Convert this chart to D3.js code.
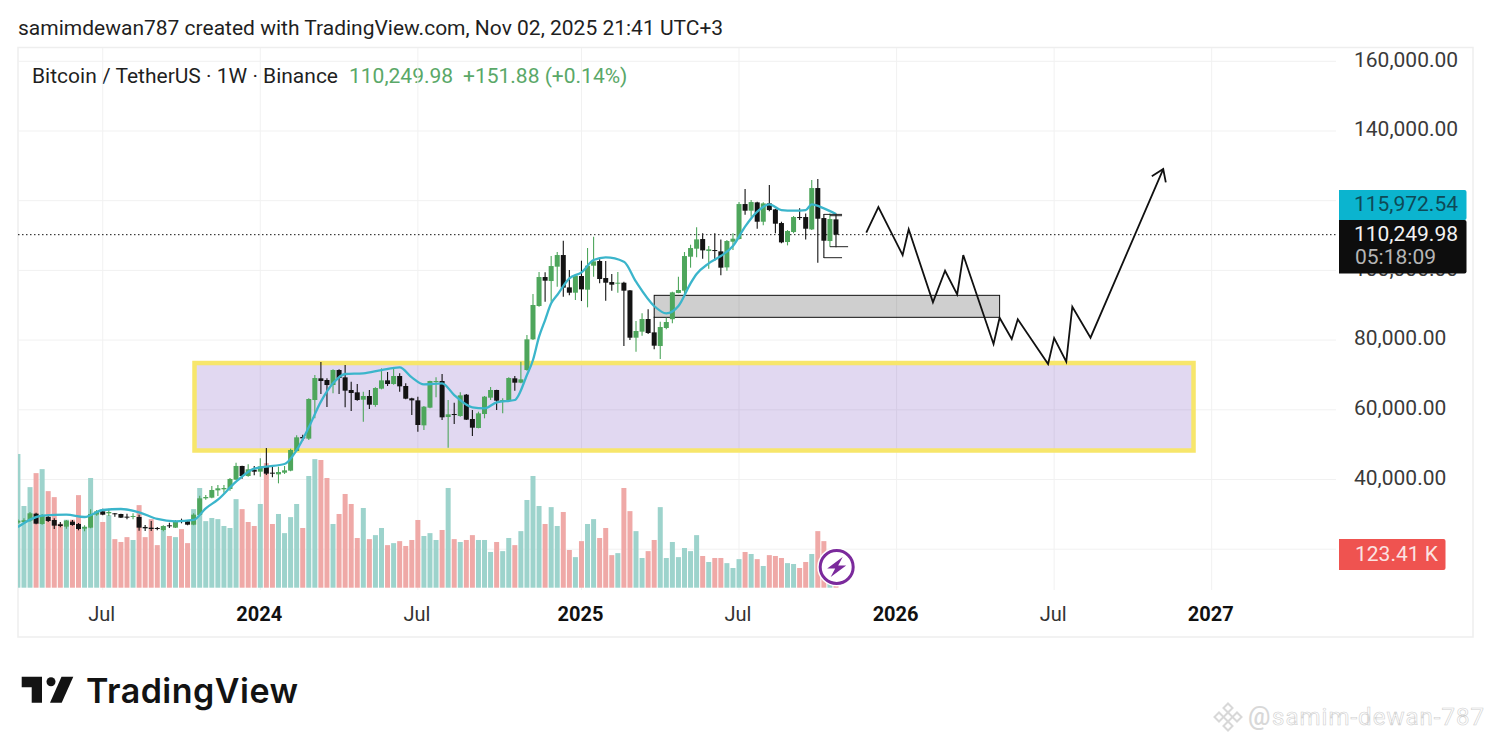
<!DOCTYPE html>
<html>
<head>
<meta charset="utf-8">
<title>BTCUSDT 1W</title>
<script src="https://cdn.jsdelivr.net/npm/d3@7"></script>
<style>
  html, body { margin: 0; padding: 0; background: #fff; }
  svg { display: block; font-family: Roboto, sans-serif; }
</style>
</head>
<body>
<svg id="chart" width="1492" height="743"></svg>
<script>
// Weekly candles, Monday 2023-03-27 onward
const open = [
  27620,27810,28190,30200,27240,29240,28380,27140,26470,27900,
  27240,25900,26180,29910,30870,30300,30300,30100,29340,29340,
  29240,26380,26180,26090,25510,26850,26180,28190,28000,27040,
  29820,34600,34790,36890,37180,37280,39950,43880,41010,42820,
  42250,43680,41960,41480,41960,42540,48180,52200,51720,62810,
  69030,68550,67110,71420,69310,65680,65010,62900,63960,61380,
  66060,68450,67400,69700,66830,63290,62710,55540,60610,67970,
  68260,57930,58790,58220,64340,57360,54780,58790,63480,65680,
  62430,62520,69030,67780,71420,80220,89780,98100,96950,101070,
  104410,95130,93600,98390,94460,101350,102690,97810,96660,96190,
  96470,94270,80690,82420,86050,82220,78300,83470,86000,93510,
  94180,103930,106230,109000,105560,105840,105460,100870,108230,109000,
  119040,117130,119520,113970,119230,117510,113590,108140,111010,115310,
  115310,111770,123630,115020,108430,114640
];
const high = [
  28570,28860,30680,30490,30100,29910,28860,27810,28380,28380,
  27520,26850,31440,31250,31630,31630,30390,30200,30200,30300,
  29910,26950,28100,26380,26850,27620,28380,28770,28190,30300,
  35360,35560,38140,38420,38420,40430,44830,43970,44350,43880,
  46070,49040,43680,43680,43880,48850,52670,52860,63290,69980,
  73710,69030,71610,71610,72850,68070,67400,65200,65680,66440,
  71890,70840,71890,70460,67590,63480,63770,61090,68360,69310,
  70270,62810,62040,65010,64530,59940,59460,63960,66540,65770,
  63290,69310,69700,73810,81460,93220,99530,99440,104120,105270,
  108520,100110,98960,102780,106420,109670,103170,102690,98960,99530,
  96760,94370,85480,87680,88820,86720,85280,86430,93890,98190,
  105270,107370,112350,110630,106990,110630,108900,108710,110630,119610,
  123340,120190,119710,119520,124490,117700,113970,111580,115600,117800,
  116360,125930,126210,116170,116360,116360
];
const low = [
  27240,27240,27900,27140,27040,27810,25800,26280,25900,26760,
  25420,25130,25990,29630,29720,29530,29340,28960,28570,28570,
  25320,25230,25230,25420,25130,26090,26090,27430,26850,26850,
  29630,34220,34600,35270,36220,36800,39860,40240,40820,41200,
  40820,41290,40620,38900,41580,42350,47990,51140,51330,57550,
  64530,60800,64720,64530,60710,59650,62620,56590,60230,60900,
  65870,66830,67210,65200,63000,58510,53730,54200,60420,63570,
  57070,49130,55920,58030,57070,52480,54680,57550,62810,59940,
  58980,62330,65490,67590,71230,80020,89590,91020,91020,95330,
  92460,92840,91500,91210,89400,98190,96280,91310,94180,93600,
  78300,80020,76680,81270,81750,77350,74570,83080,84810,93410,
  92930,100780,103740,103360,100490,102780,98580,99920,105840,108900,
  115980,115410,111960,112920,116940,110630,107760,107180,110630,114450,
  108900,111580,102210,103550,106800,106610
];
const close = [
  28190,28290,30300,27330,29530,28100,26760,26660,28190,26950,
  25800,26380,30100,30870,29910,30680,30100,29050,29150,29530,
  26180,25990,25800,25800,26660,26660,28100,28000,27040,29910,
  34600,34980,36990,37470,37560,40150,43880,41010,42920,42250,
  43780,41680,41680,42150,42630,48470,52100,51810,63100,69120,
  68260,67110,71420,69120,65490,64820,62810,63960,61470,66250,
  68450,67400,69700,66730,63190,62710,55640,60900,68260,68260,
  57840,58700,58600,64150,57170,54870,58980,63770,65680,62620,
  62810,69120,67780,68740,80220,90070,98100,97050,101250,104410,
  95040,93600,98480,94560,101350,102590,97530,96470,95900,96470,
  94180,80690,82610,86050,82030,78400,83750,85190,93700,94370,
  104120,106420,108900,105750,106040,105650,100780,108430,109100,119040,
  117130,119610,113970,119230,117320,113400,108040,111300,115310,115020,
  111960,123630,114830,108520,114740,110249.98
];
// volume in thousands of BTC
const volume = [
  468,286,352,401,415,338,317,224,238,238,
  324,214,384,256,230,254,170,160,177,167,
  289,177,240,149,214,181,177,205,156,275,
  349,233,244,240,216,209,310,275,230,216,
  293,436,223,258,191,247,293,209,391,450,
  447,384,223,258,328,293,174,279,170,184,
  209,149,156,163,146,167,237,181,191,167,
  202,349,170,160,167,184,167,167,125,160,
  128,174,149,198,307,391,286,223,282,216,
  265,132,107,163,223,240,174,209,114,121,
  349,268,198,104,128,167,282,104,160,107,
  139,128,184,111,90,104,104,86,69,100,
  125,118,100,76,114,111,104,86,83,69,
  90,118,198,163,105,123.41
];
// week with a green candle but a red volume bar
const redVolumeWeeks = [38];
const maWeek = [0,4,8,11,14,17,20,23,26,29,31,33,36,39,41,44,46,48,50,52,54,57,60,63,65,67,70,72,75,77,79,82,84,85,86,87,88,89,91,93,95,97,100,102,105,107,109,111,112,114,116,118,120,122,124,126,128,130,131,133,135];
const maPrice = [26375,29626,29913,29243,31252,31539,30583,28670,28000,28383,31730,34217,39380,43110,43684,44449,48465,54968,62332,67591,70269,70460,71416,72181,69312,67304,67591,64244,60706,60419,62140,62810,69982,74286,80980,85762,90544,92934,97716,99437,102975,103740,102497,96760,89779,87675,89779,96281,98958,102019,104123,106991,112538,116841,118945,117319,117128,117319,118945,117797,116172];
// forecast zig-zag drawn on the chart
const forecastWeek = [140,142,146,147,151,153,155,156,161,162,164,165,170,171,173,174,177,189];
const forecastPrice = [110807,118180,104409,111782,90839,99905,93134,104409,78875,86420,80309,85961,73137,80596,73797,89576,80683,129082];
// small horizontal ticks at the last bars
const stubFrom = [133,134,134,133];
const stubTo = [136,136,137,136];
const stubPrice = [116076,115694,106800,103645];

const gridPrices = [160000,140000,120000,100000,80000,60000,40000,20000];
// 120,000 and 20,000 sit fully under the price tags
const labelPrices = [160000,140000,100000,80000,60000,40000];
const timeTicks = ["2023-07-03","2024-01-01","2024-07-01","2025-01-06","2025-07-07","2026-01-05","2026-07-06","2027-01-04"];
const timeLabels = ["Jul","2024","Jul","2025","Jul","2026","Jul","2027"];

const rangeBox = { from: "2023-10-17", to: "2026-12-14", top: 73424, bottom: 48320 };
const grayBox = { from: "2025-03-31", to: "2026-05-04", top: 92847, bottom: 86535 };
const lastPrice = 110249.98;

const UP = "#4ea65c", DOWN = "#131313";
const VOL_UP = "#9dd3cc", VOL_DOWN = "#efa9a7";

const firstWeek = new Date(Date.UTC(2023, 2, 27));
const weekDate = (i) => d3.utcMonday.offset(firstWeek, i);
const parse = d3.utcParse("%Y-%m-%d");

const paneLeft = 18, paneRight = 1336, paneBottom = 590;

const x = d3.scaleUtc().domain([weekDate(0), weekDate(197)]).range([17.9, 1211.7]);
const y = d3.scaleLinear().domain([40000, 160000]).range([479.5, 61.3]);
const yVol = d3.scaleLinear().domain([0, 350]).range([587.7, 487.7]);

const svg = d3.select("#chart");
svg.append("clipPath").attr("id", "pane").append("rect")
  .attr("x", paneLeft).attr("y", 48).attr("width", paneRight - paneLeft).attr("height", paneBottom - 48);

// frame
svg.append("rect").attr("x", 18).attr("y", 47.5).attr("width", 1455).attr("height", 589.5)
  .attr("fill", "none").attr("stroke", "#eeeeee").attr("stroke-width", 1.5);

// header
svg.append("text").attr("x", 18).attr("y", 35).attr("font-size", 21).attr("fill", "#1f1f1f")
  .text("samimdewan787 created with TradingView.com, Nov 02, 2025 21:41 UTC+3");
const legend = svg.append("text").attr("x", 32).attr("y", 83).attr("font-size", 21);
legend.append("tspan").attr("fill", "#1f1f1f").text("Bitcoin / TetherUS · 1W · Binance");
legend.append("tspan").attr("x", 349).attr("fill", "#5aa868").text("110,249.98");
legend.append("tspan").attr("x", 463).attr("fill", "#5aa868").text("+151.88 (+0.14%)");

// grid
const grid = svg.append("g").attr("stroke", "#f1f1f1").attr("stroke-width", 1);
grid.selectAll("line.h").data(gridPrices).join("line").attr("class", "h")
  .attr("x1", paneLeft).attr("x2", paneRight).attr("y1", (d) => y(d)).attr("y2", (d) => y(d));
grid.selectAll("line.v").data(timeTicks).join("line").attr("class", "v")
  .attr("x1", (d) => x(parse(d))).attr("x2", (d) => x(parse(d))).attr("y1", 48).attr("y2", paneBottom);

// axes
const xAxis = d3.axisBottom(x)
  .tickValues(timeTicks.map(parse))
  .tickSize(0)
  .tickFormat((d, i) => timeLabels[i]);
const xAxisG = svg.append("g").attr("transform", "translate(-1.5,604)").call(xAxis);
xAxisG.select(".domain").remove();
xAxisG.selectAll("text")
  .attr("font-family", "Roboto, sans-serif").attr("font-size", 20)
  .attr("font-weight", (d, i) => (i % 2 ? 700 : 400))
  .attr("fill", (d, i) => (i % 2 ? "#111" : "#333"));

const yAxis = d3.axisRight(y).tickValues(labelPrices).tickSize(0)
  .tickFormat((d) => d3.format(",.2f")(d));
const yAxisG = svg.append("g").attr("transform", "translate(1354,-2)").call(yAxis);
yAxisG.select(".domain").remove();
yAxisG.selectAll("text").attr("x", 0)
  .attr("font-family", "Roboto, sans-serif").attr("font-size", 21).attr("fill", "#3a3a3a");

const pane = svg.append("g").attr("clip-path", "url(#pane)");

// volume
const bars = d3.range(open.length);
const volUp = (i) => close[i] >= open[i] && !redVolumeWeeks.includes(i);
pane.append("g").selectAll("rect").data(bars).join("rect")
  .attr("x", (i) => x(weekDate(i)) - 2.5)
  .attr("width", 5)
  .attr("y", (i) => yVol(volume[i]))
  .attr("height", (i) => yVol(0) - yVol(volume[i]))
  .attr("fill", (i) => (volUp(i) ? VOL_UP : VOL_DOWN));

// drawn boxes
function drawBox(box, fill, stroke, strokeWidth) {
  pane.append("rect")
    .attr("x", x(parse(box.from)))
    .attr("width", x(parse(box.to)) - x(parse(box.from)))
    .attr("y", y(box.top))
    .attr("height", y(box.bottom) - y(box.top))
    .attr("fill", fill)
    .attr("stroke", stroke)
    .attr("stroke-width", strokeWidth);
}
drawBox(rangeBox, "rgba(103,58,183,0.2)", "#f7e66b", 4.5);
drawBox(grayBox, "rgba(0,0,0,0.19)", "#111", 1);

// last price line
pane.append("line").attr("x1", paneLeft).attr("x2", paneRight)
  .attr("y1", y(lastPrice)).attr("y2", y(lastPrice))
  .attr("stroke", "#111").attr("stroke-width", 1).attr("stroke-dasharray", "1.5 2.5");

// candles
const candles = pane.append("g");
candles.selectAll("line").data(bars).join("line")
  .attr("x1", (i) => x(weekDate(i))).attr("x2", (i) => x(weekDate(i)))
  .attr("y1", (i) => y(high[i])).attr("y2", (i) => y(low[i]))
  .attr("stroke", (i) => (close[i] >= open[i] ? UP : DOWN)).attr("stroke-width", 1.1);
candles.selectAll("rect").data(bars).join("rect")
  .attr("x", (i) => x(weekDate(i)) - 2.5)
  .attr("width", 5)
  .attr("y", (i) => y(Math.max(open[i], close[i])))
  .attr("height", (i) => Math.max(1, Math.abs(y(open[i]) - y(close[i]))))
  .attr("fill", (i) => (close[i] >= open[i] ? UP : DOWN));

// moving average
const maLine = d3.line()
  .x((d, i) => x(weekDate(maWeek[i])))
  .y((d) => y(d))
  .curve(d3.curveMonotoneX);
pane.append("path").attr("d", maLine(maPrice))
  .attr("fill", "none").attr("stroke", "#3bb5cb").attr("stroke-width", 2.3);

// stubs at the last bars
pane.append("g").selectAll("line").data(stubPrice).join("line")
  .attr("x1", (d, i) => x(weekDate(stubFrom[i])))
  .attr("x2", (d, i) => x(weekDate(stubTo[i])))
  .attr("y1", (d) => y(d)).attr("y2", (d) => y(d))
  .attr("stroke", "#222").attr("stroke-width", 1);

// forecast path with arrow head
const fcPoints = forecastPrice.map((p, i) => [x(weekDate(forecastWeek[i])), y(p)]);
const fcLine = d3.line();
pane.append("path").attr("d", fcLine(fcPoints))
  .attr("fill", "none").attr("stroke", "#111").attr("stroke-width", 1.8).attr("stroke-linejoin", "miter");
const tip = fcPoints[fcPoints.length - 1], prev = fcPoints[fcPoints.length - 2];
const ang = Math.atan2(tip[1] - prev[1], tip[0] - prev[0]);
const head = [ang - 0.6, ang + 0.6].map((a) => [tip[0] - 13.5 * Math.cos(a), tip[1] - 13.5 * Math.sin(a)]);
pane.append("path").attr("d", fcLine([head[0], tip, head[1]]))
  .attr("fill", "none").attr("stroke", "#111").attr("stroke-width", 1.8);

// price labels
function priceLabel(top, bottom, width, fill) {
  svg.append("path")
    .attr("d", `M1339,${top}H${1339 + width - 2}a2,2 0 0 1 2,2V${bottom - 2}a2,2 0 0 1 -2,2H1339Z`)
    .attr("fill", fill);
}
priceLabel(190, 220, 127.5, "#0bb4cf");
svg.append("text").attr("x", 1458).attr("y", 211).attr("text-anchor", "end")
  .attr("font-size", 21).attr("fill", "#0e4a57").text("115,972.54");
priceLabel(220, 273.5, 127.5, "#0d0d0d");
svg.append("text").attr("x", 1458).attr("y", 241).attr("text-anchor", "end")
  .attr("font-size", 21).attr("fill", "#f2f2f2").text(d3.format(",.2f")(lastPrice));
svg.append("text").attr("x", 1355).attr("y", 264)
  .attr("font-size", 21).attr("fill", "#b5b5b5").text("05:18:09");
priceLabel(539, 570, 106.5, "#ef5350");
svg.append("text").attr("x", 1355).attr("y", 561)
  .attr("font-size", 21).attr("fill", "#fbe3e2").text("123.41 K");

// bolt badge
const badge = svg.append("g").attr("transform", `translate(${x(weekDate(135)) + 0.7},567)`);
badge.append("circle").attr("r", 19.5).attr("fill", "#fff");
badge.append("circle").attr("r", 16.5).attr("fill", "#fff").attr("stroke", "#7b2a9c").attr("stroke-width", 3);
badge.append("path").attr("d", "M6,-10 L-9.5,1.5 L-1.5,1.5 L-6,10 L9.5,-1.5 L1.5,-1.5 Z").attr("fill", "#7b2a9c");

// TradingView logo
const logo = svg.append("g").attr("fill", "#131313");
logo.append("path").attr("d", "M21.7,676.7H42V702.7H31.7V687.3H21.7Z");
logo.append("circle").attr("cx", 51).attr("cy", 681.7).attr("r", 4.5);
logo.append("path").attr("d", "M73.3,676.7L61.7,702.7H50L61.5,676.7Z");
logo.append("text").attr("x", 86).attr("y", 703).attr("font-family", "Inter, sans-serif")
  .attr("font-size", 34).attr("font-weight", 600).attr("textLength", 212).text("TradingView");

// watermark
const mark = svg.append("g").attr("transform", "translate(1228,717)").attr("fill", "none").attr("stroke", "#d8d8d8").attr("stroke-width", 2);
[[0, -9], [-9, 0], [9, 0], [0, 9], [0, 0]].forEach(([dx, dy]) => {
  mark.append("rect").attr("x", dx - 3.2).attr("y", dy - 3.2).attr("width", 6.4).attr("height", 6.4)
    .attr("transform", `rotate(45 ${dx} ${dy})`);
});
svg.append("text").attr("x", 1248).attr("y", 725).attr("font-size", 25).attr("fill", "#d8d8d8").attr("font-weight", 500).text("@");
svg.append("text").attr("x", 1272).attr("y", 725).attr("font-size", 24).attr("fill", "#fff")
  .attr("stroke", "#cfcfcf").attr("stroke-width", 0.6).attr("textLength", 212).text("samim-dewan-787");
</script>
</body>
</html>
